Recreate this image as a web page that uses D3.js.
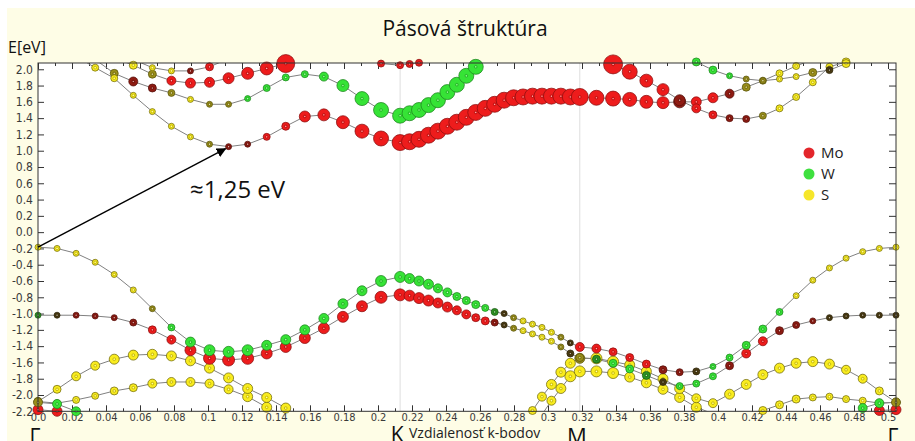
<!DOCTYPE html>
<html>
<head>
<meta charset="utf-8">
<script src="https://cdn.jsdelivr.net/npm/d3@7"></script>
<style>
  body { margin: 0; background: #fff; }
  text { font-family: "Open Sans", "Noto Sans", sans-serif; }
  .tick text { font-family: "DejaVu Sans Condensed", "DejaVu Sans", sans-serif; font-stretch: condensed; fill: #3a3a3a; }
</style>
</head>
<body>
<div id="chart"></div>
<script>
const W = 915, H = 441;

// path through the Brillouin zone: high-symmetry points, k-distance, point index
const symLabels = ["Γ", "K", "M", "Γ"];
const symK = [0, 0.213, 0.3187, 0.5047];
const symIndex = [0, 19, 38, 57];

const kTicks = [0, 0.02, 0.04, 0.06, 0.08, 0.1, 0.12, 0.14, 0.16, 0.18, 0.2, 0.22, 0.24,
    0.26, 0.28, 0.3, 0.32, 0.34, 0.36, 0.38, 0.4, 0.42, 0.44, 0.46, 0.48, 0.5];
const eTicks = [2.0, 1.8, 1.6, 1.4, 1.2, 1.0, 0.8, 0.6, 0.4, 0.2, 0.0, -0.2, -0.4, -0.6,
    -0.8, -1.0, -1.2, -1.4, -1.6, -1.8, -2.0, -2.2];

const legendNames = ["Mo", "W", "S"];
const legendColors = ["#e3262b", "#3fe03f", "#f6e62a"];

// colour codes: R Mo, G W, Y S, r/o/g/d mixed (dark red, olive, dark green, dark)
const palette = { R: "#ee1c1c", G: "#36e336", Y: "#f9ec1e", r: "#8f1b12", o: "#9a8f1a", g: "#2d9422", d: "#4b3b12" };

const N19 = Array(19).fill(null);
const D19 = "...................";

// ---- conduction bands (each: Γ-K 20 pts, K-M 19 pts, M-Γ 19 pts) ----
const A_E = [null, null, 2.16, 2.02, 1.89, 1.68, 1.48, 1.30, 1.17, 1.08, 1.05, 1.08, 1.17, 1.30, 1.42, 1.44, 1.35, 1.24, 1.15, 1.10,
    1.11, 1.14, 1.19, 1.24, 1.30, 1.35, 1.41, 1.47, 1.52, 1.57, 1.62, 1.65, 1.66, 1.67, 1.67, 1.67, 1.67, 1.66, 1.66,
    1.65, 1.64, 1.63, 1.60, 1.59, 1.60, 1.60, 1.65, 1.70, 1.78, 1.86, 1.95, 2.04, 2.12, null, null, null, null, null];
const A_C = "..YYYYYYYorrRRRRRRRR" + "RRRRRRRRRRRRRRRRRRR" + "RRRRRrRRrooYYY.....";
const A_R = [0, 0, 3, 3.5, 3.5, 3, 3, 3, 3, 3, 3, 3, 3.5, 4, 5.5, 6, 6.5, 7, 7.5, 8,
    8, 8, 8, 8, 8, 8, 8, 8, 8, 8, 8, 8, 8, 8, 8, 8, 8, 8, 8.5,
    7.5, 7.5, 7, 6.5, 6, 6, 5, 5, 4.5, 4, 3.5, 3.5, 3.5, 3.5, 0, 0, 0, 0, 0];

const B_E = [null, null, null, 2.12, 1.95, 1.85, 1.77, 1.71, 1.63, 1.57, 1.57, 1.64, 1.77, 1.90, 1.94, 1.91, 1.80, 1.64, 1.50, 1.43,
    1.46, 1.50, 1.56, 1.62, 1.72, 1.81, 1.92, 2.03, 2.14, null, null, null, null, null, null, null, null, null, null,
    ...N19];
const B_C = "...oorroYooGGGGGGGGG" + "GGGGGGGGG.........." + D19;
const B_R = [0, 0, 0, 3.5, 4, 4.5, 4, 3.5, 3, 3, 3, 3, 3.5, 3.5, 3.5, 4.5, 6, 7, 7.5, 7.5,
    7.5, 7.5, 7.5, 7.5, 7.5, 7.5, 7.5, 7.5, 7.5, 0, 0, 0, 0, 0, 0, 0, 0, 0, 0,
    ...N19];

const C_E = [null, null, null, null, 2.14, 2.05, 1.94, 1.86, 1.83, 1.84, 1.89, 1.95, 2.01, 2.07, 2.14, null, null, null, null, null,
    ...N19, ...N19];
const C_C = "....YYoRRRRRRRR....." + D19 + D19;
const C_R = [0, 0, 0, 0, 4, 4, 4, 4.5, 5, 5, 5.5, 6, 6.5, 9, 9, 0, 0, 0, 0, 0, ...N19, ...N19];

const D_E = [null, null, null, null, null, 2.12, 2.02, 1.98, 1.98, 2.03, 2.13, null, null, null, null, null, null, null, null, null,
    ...N19, ...N19];
const D_C = ".....YYYrRR........." + D19 + D19;
const D_R = [0, 0, 0, 0, 0, 3, 3, 3, 3, 4, 4.5, 0, 0, 0, 0, 0, 0, 0, 0, 0, ...N19, ...N19];

const E_E = [null, null, null, null, null, null, null, null, null, null, null, null, null, null, null, null, 2.22, 2.12, 2.07, 2.05,
    2.065, 2.08, 2.13, 2.20, null, null, null, null, null, null, null, null, null, null, null, null, null, null, null,
    ...N19];
const E_C = "................RRRR" + "RRRR..............." + D19;
const E_R = 3.5;

const F_E = [...Array(20).fill(null), ...N19,
    2.18, 2.06, 1.97, 1.86, 1.75, 1.62, 1.52, 1.44, 1.40, 1.39, 1.43, 1.52, 1.66, 1.84, 2.03, 2.09, 2.16, null, null];
const F_C = "...................." + D19 + "RRRRRrRRrroYYYYYY..";
const F_R = [...Array(20).fill(0), ...N19,
    9.5, 9.5, 7.5, 6.5, 6, 5.5, 4.5, 4, 3.5, 3.5, 3.5, 3.5, 3.5, 3.5, 3.5, 4, 4, 0, 0];

const G_E = [...Array(20).fill(null), ...N19,
    null, null, null, null, null, 2.18, 2.09, 1.99, 1.92, 1.88, 1.86, 1.88, 1.91, 1.96, 1.99, 2.07, 2.14, null, null];
const G_C = "...................." + D19 + ".....GGGGooYYodYY..";
const G_R = [...Array(20).fill(0), ...N19,
    0, 0, 0, 0, 0, 4, 4, 4, 3, 3, 3, 3, 3, 4, 3.5, 4, 4, 0, 0];

// ---- valence bands ----
const V1_E = [-0.185, -0.20, -0.26, -0.37, -0.52, -0.71, -0.94, -1.17, -1.35, -1.45, -1.47, -1.45, -1.39, -1.32, -1.20, -1.06, -0.88, -0.72, -0.60, -0.55,
    -0.57, -0.60, -0.64, -0.69, -0.74, -0.79, -0.84, -0.89, -0.93, -0.98, -1.00, -1.05, -1.09, -1.13, -1.17, -1.23, -1.29, -1.36, -1.41,
    -1.43, -1.47, -1.54, -1.62, -1.69, -1.72, -1.71, -1.65, -1.54, -1.39, -1.19, -0.98, -0.78, -0.59, -0.44, -0.32, -0.24, -0.20, -0.185];
const V1_C = "YYYYYYoGGGGGGGGGGGGG" + "GGGGGGGGGgdoYYYYodR" + "RRRRrrdGGGGGYYYYYYY";
const V1_R = [3, 3, 3, 3, 3, 3, 3, 3.5, 5, 5.5, 5.5, 5.5, 5, 5, 5, 5, 5, 5, 5.5, 5.5,
    5, 5, 5, 4.5, 4.5, 4, 4, 4, 3.5, 3.5, 3, 3, 3, 3, 3, 3, 3, 3, 4.5,
    4.5, 4, 4, 4, 4, 3.5, 3.5, 3, 3.5, 4, 4, 3.5, 3, 3, 3, 3, 3, 3, 3];

const V2_E = [-1.02, -1.02, -1.02, -1.03, -1.05, -1.11, -1.20, -1.32, -1.45, -1.55, -1.57, -1.55, -1.49, -1.41, -1.30, -1.18, -1.04, -0.91, -0.80, -0.77,
    -0.78, -0.81, -0.84, -0.87, -0.92, -0.96, -1.01, -1.05, -1.09, -1.11, -1.14, -1.18, -1.21, -1.25, -1.29, -1.34, -1.41, -1.49, -1.54,
    -1.56, -1.61, -1.68, -1.76, -1.84, -1.89, -1.86, -1.77, -1.64, -1.49, -1.34, -1.21, -1.14, -1.09, -1.05, -1.03, -1.02, -1.02, -1.02];
const V2_C = "gdrrrrRRRRRRRRRRRRRR" + "RRRRRRRRRrdoYYYYodo" + "gGGgdGGGrRRrrrddddd";
const V2_R = [3, 3, 3, 3, 3, 3.5, 4, 4.5, 5.5, 6, 6, 6, 5.5, 5.5, 5.5, 5.5, 5.5, 5.5, 6, 6,
    5.5, 5.5, 5.5, 5, 5, 4.5, 4.5, 4, 4, 3.5, 3, 3, 3, 3, 3, 3, 3, 3.5, 4,
    4, 4, 4, 4, 3.5, 3.5, 3.5, 3.5, 4, 4.5, 4.5, 4, 3.5, 3, 3, 3, 3, 3, 3];

const Y1_E = [-2.08, -1.93, -1.77, -1.64, -1.56, -1.51, -1.50, -1.52, -1.58, -1.67, -1.79, -1.92, -2.03, -2.16, -2.30, null, null, null, null, null,
    null, null, null, null, null, null, null, null, null, null, null, null, -2.35, -2.19, -2.02, -1.87, -1.72, -1.61, -1.55,
    -1.55, -1.59, -1.63, -1.71, -1.80, -1.92, -2.04, -2.10, -1.99, -1.87, -1.75, -1.67, -1.61, -1.59, -1.62, -1.69, -1.80, -1.95, -2.09];
const Y1_C = "oYYYYYYYYYYYYYY....." + "............YYYYYYo" + "YYYYYYYYYYYYYYYYYYY";
const Y1_R = [4, 4, 4.5, 4.5, 5, 5, 5, 5, 5, 5, 5, 5, 5, 5, 5, 0, 0, 0, 0, 0,
    0, 0, 0, 0, 0, 0, 0, 0, 0, 0, 0, 0, 4, 4, 4.5, 5, 5, 5, 5,
    5.5, 5.5, 5, 5, 5, 5, 4.5, 4.5, 5, 5, 5, 5, 5, 5, 5, 4.5, 4.5, 4, 4];

const Y2_E = [-2.08, -2.10, -2.06, -2.01, -1.95, -1.91, -1.86, -1.84, -1.84, -1.86, -1.93, -2.02, -2.15, -2.28, null, null, null, null, null, null,
    null, null, null, null, null, null, null, null, null, null, null, null, null, -2.40, -2.24, -2.07, -1.92, -1.77, -1.71,
    -1.71, -1.73, -1.78, -1.85, -1.93, -2.03, -2.15, -2.23, -2.30, -2.27, -2.19, -2.12, -2.05, -2.03, -2.02, -2.05, -2.07, -2.10, -2.09];
const Y2_C = "YYYYYYYYYYYYYY......" + ".............YYYYYY" + "YYYYYYYYYYYYYYYYYYY";
const Y2_R = [4, 3.5, 3.5, 3.5, 4, 4, 4.5, 4.5, 4.5, 4.5, 4.5, 5, 5, 5, 0, 0, 0, 0, 0, 0,
    0, 0, 0, 0, 0, 0, 0, 0, 0, 0, 0, 0, 0, 4, 4.5, 4.5, 5, 5.5, 5.5,
    5.5, 5.5, 5, 5, 5, 5, 5, 5, 4.5, 4, 4, 4, 4, 3.5, 3.5, 3.5, 3.5, 4, 4];

const V5_E = [-2.18, -2.20, -2.30, null, null, null, null, null, null, null, null, null, null, null, null, null, null, null, null, null,
    ...N19,
    null, null, null, null, null, null, null, null, null, null, null, null, null, null, null, null, -2.32, -2.19, -2.18];
const V5_C = "RRR................." + D19 + "................RRR";
const V5_R = 5;

const V6_E = [-2.09, -2.11, -2.20, -2.32, null, null, null, null, null, null, null, null, null, null, null, null, null, null, null, null,
    ...N19,
    null, null, null, null, null, null, null, null, null, null, null, null, null, null, null, -2.30, -2.16, -2.10, -2.09];
const V6_C = "oGGG................" + D19 + "...............GGGo";
const V6_R = 4.5;

// drawing order (later on top)
const bands = [
    [Y2_E, Y2_C, Y2_R], [Y1_E, Y1_C, Y1_R], [V5_E, V5_C, V5_R], [V6_E, V6_C, V6_R],
    [V2_E, V2_C, V2_R], [V1_E, V1_C, V1_R],
    [B_E, B_C, B_R], [C_E, C_C, C_R], [D_E, D_C, D_R], [E_E, E_C, E_R],
    [A_E, A_C, A_R], [F_E, F_C, F_R], [G_E, G_C, G_R]
];

const plot = { left: 38, right: 896, top: 63, bottom: 411.3 };

const idxToK = d3.scaleLinear().domain(symIndex).range(symK);
const x = d3.scaleLinear().domain([0, symK[3]]).range([plot.left, plot.right]);
const y = d3.scaleLinear().domain([-2.2, 2.077]).range([plot.bottom, plot.top]);

const svg = d3.select("#chart").append("svg").attr("width", W).attr("height", H);

svg.append("rect").attr("width", W).attr("height", H).attr("fill", "#fff");
svg.append("rect").attr("x", 7).attr("y", 8).attr("width", W - 7).attr("height", H - 8).attr("fill", "#fefde6");
svg.append("rect")
    .attr("x", plot.left).attr("y", plot.top)
    .attr("width", plot.right - plot.left).attr("height", plot.bottom - plot.top)
    .attr("fill", "#fff");

const defs = svg.append("defs");
defs.append("clipPath").attr("id", "plotclip")
    .append("rect")
    .attr("x", plot.left).attr("y", plot.top)
    .attr("width", plot.right - plot.left).attr("height", plot.bottom - plot.top);
defs.append("marker").attr("id", "arrowhead")
    .attr("viewBox", "0 0 10 10").attr("refX", 9).attr("refY", 5)
    .attr("markerWidth", 7).attr("markerHeight", 7).attr("orient", "auto")
    .append("path").attr("d", "M0,0L10,5L0,10z").attr("fill", "#000");

// K and M guide lines
svg.append("g").selectAll("line")
    .data(symK.slice(1, 3))
    .join("line")
    .attr("x1", d => x(d)).attr("x2", d => x(d))
    .attr("y1", plot.top).attr("y2", plot.bottom)
    .attr("stroke", "#dedede").attr("stroke-width", 1);

// title and axis name
svg.append("text").attr("x", 465).attr("y", 36).attr("text-anchor", "middle")
    .style("font-size", "21px").attr("fill", "#111").text("Pásová štruktúra");
svg.append("text").attr("x", 8).attr("y", 53)
    .style("font-size", "16px").attr("fill", "#111").text("E[eV]");

// axes (ticks point inward)
const fmtK = v => {
    const s = String(Math.round(v * 100) / 100);
    return s.includes(".") ? s : s + ".0";
};
const minorK = d3.range(0, 0.5001, 0.01);

function clean(g) {
    g.select(".domain").remove();
    g.selectAll(".tick line").attr("stroke", "#333");
}

svg.append("g").attr("transform", `translate(0,${plot.bottom})`)
    .call(d3.axisBottom(x).tickValues(minorK).tickSize(-3).tickFormat(""))
    .call(clean);
svg.append("g").attr("transform", `translate(0,${plot.bottom})`)
    .call(d3.axisBottom(x).tickValues(kTicks).tickSize(-6).tickPadding(1.5).tickFormat(fmtK))
    .call(clean)
    .selectAll("text").style("font-size", "11px");
svg.append("g").attr("transform", `translate(0,${plot.top})`)
    .call(d3.axisTop(x).tickValues(minorK).tickSize(-3).tickFormat(""))
    .call(clean);
svg.append("g").attr("transform", `translate(0,${plot.top})`)
    .call(d3.axisTop(x).tickValues(kTicks).tickSize(-6).tickFormat(""))
    .call(clean);
svg.append("g").attr("transform", `translate(${plot.left},0)`)
    .call(d3.axisLeft(y).tickValues(eTicks).tickSize(-6).tickPadding(5).tickFormat(v => v.toFixed(1)))
    .call(clean)
    .selectAll("text").style("font-size", "12px");
svg.append("g").attr("transform", `translate(${plot.right},0)`)
    .call(d3.axisRight(y).tickValues(eTicks).tickSize(-7).tickFormat(""))
    .call(clean);

// band lines
const line = d3.line()
    .defined(d => d != null)
    .x((d, i) => x(idxToK(i)))
    .y(d => y(d));

const lineLayer = svg.append("g").attr("clip-path", "url(#plotclip)");
bands.forEach(([e]) => {
    lineLayer.append("path")
        .attr("d", line(e))
        .attr("fill", "none")
        .attr("stroke", "#808080")
        .attr("stroke-width", 1);
});

// band markers (size ~ weight, colour ~ atom character)
const markLayer = svg.append("g");
bands.forEach(([e, c, r]) => {
    const pts = e.map((v, i) => ({ i, v, code: c[i], rad: Array.isArray(r) ? r[i] : r }))
        .filter(p => p.v != null && p.code !== "." && p.rad > 0 && p.v >= -2.225 && p.v <= 2.095);
    const g = markLayer.append("g").selectAll("g")
        .data(pts)
        .join("g")
        .attr("transform", p => `translate(${x(idxToK(p.i))},${y(p.v)})`);
    g.append("circle")
        .attr("r", p => p.rad)
        .attr("fill", p => palette[p.code])
        .attr("stroke", p => d3.color(palette[p.code]).darker(p.code === "Y" ? 2.2 : 1.5))
        .attr("stroke-opacity", 0.85)
        .attr("stroke-width", 0.9);
    g.append("circle")
        .attr("r", 1.4)
        .attr("fill", "none")
        .attr("stroke", p => d3.color(palette[p.code]).darker(1.8))
        .attr("stroke-opacity", 0.55)
        .attr("stroke-width", 0.7);
    g.append("circle")
        .attr("r", 0.6)
        .attr("fill", "#fff")
        .attr("opacity", 0.8);
});

// plot frame
svg.append("rect")
    .attr("x", plot.left).attr("y", plot.top)
    .attr("width", plot.right - plot.left).attr("height", plot.bottom - plot.top)
    .attr("fill", "none").attr("stroke", "#333").attr("stroke-width", 1);

// band gap annotation
svg.append("line")
    .attr("x1", x(idxToK(0))).attr("y1", y(V1_E[0]))
    .attr("x2", x(idxToK(10)) - 3).attr("y2", y(A_E[10]) + 2)
    .attr("stroke", "#000").attr("stroke-width", 1.4)
    .attr("marker-end", "url(#arrowhead)");
svg.append("text").attr("x", 190).attr("y", 198)
    .style("font-size", "24px").attr("fill", "#111").text("≈1,25 eV");

// legend
const legend = svg.append("g").attr("transform", "translate(809,153)");
legendNames.forEach((name, i) => {
    legend.append("circle").attr("cx", 0).attr("cy", i * 21).attr("r", 5.5).attr("fill", legendColors[i]);
    legend.append("text").attr("x", 12).attr("y", i * 21).attr("dy", "0.36em")
        .style("font-size", "15px").attr("fill", "#222").text(name);
});

// high-symmetry labels
svg.append("g").selectAll("text")
    .data(symLabels)
    .join("text")
    .attr("x", (d, i) => x(symK[i]) - 3)
    .attr("y", (d, i) => d === "K" ? 442 : 444)
    .attr("text-anchor", "middle")
    .style("font-size", d => d === "M" ? "22px" : "21px")
    .attr("fill", "#111")
    .text(d => d);
svg.append("text").attr("x", 409).attr("y", 437.5)
    .style("font-size", "14px").attr("fill", "#222").text("Vzdialenosť k-bodov");
</script>
</body>
</html>
